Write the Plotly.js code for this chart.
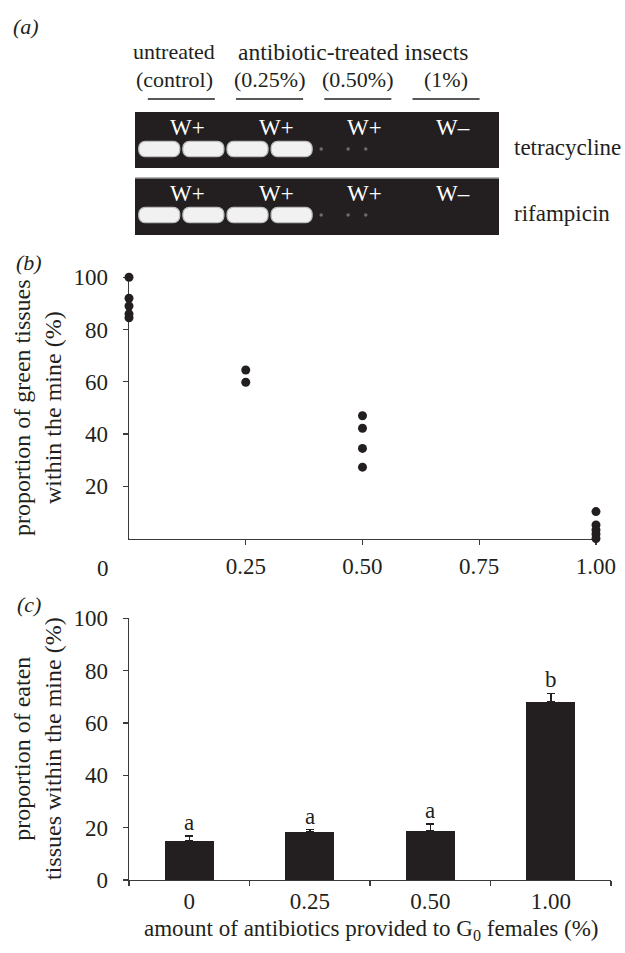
<!DOCTYPE html>
<html>
<head>
<meta charset="utf-8">
<script src="https://cdn.plot.ly/plotly-3.0.1.min.js"></script>
<style>html,body{margin:0;padding:0;background:#fff}#chart{width:625px;height:953px}</style>
</head>
<body>
<div id="chart"></div>
<script>
// ---------- data ----------
// panel (b): proportion of green tissues within the mine vs antibiotic dose
const doseB  = [0, 0, 0, 0, 0, 0.25, 0.25, 0.5, 0.5, 0.5, 0.5, 1, 1, 1, 1, 1];
const greenB = [100, 92, 89, 86, 84.5, 64.5, 59.8, 47, 42.2, 34.5, 27.3, 10.3, 5.2, 3.3, 1.7, 0];
const xTicksB = [0.25, 0.5, 0.75, 1];
const xTextB  = ['0.25', '0.50', '0.75', '1.00'];
const xZeroLabelB = '0';

// panel (c): proportion of eaten tissues (mean + s.e.)
const catsC    = ['0', '0.25', '0.50', '1.00'];
const eatenC   = [15, 18.3, 18.7, 68];
const errC     = [1.9, 0.9, 2.7, 3.3];
const lettersC = ['a', 'a', 'a', 'b'];

// panel (a): PCR gel, Wolbachia detection
const gelRows    = ['tetracycline', 'rifampicin'];
const gelGroups  = ['(control)', '(0.25%)', '(0.50%)', '(1%)'];
const gelStatus  = ['W+', 'W+', 'W+', 'W–'];
const laneBand   = [1, 1, 1, 1, 0.12, 0.1, 0, 0];   // band intensity per lane (2 lanes per group)

// ---------- style / layout constants ----------
const INK = '#231f20';
const FONT = 'Liberation Serif';
const W = 625, H = 953;
const px = v => v / W;           // x pixel -> paper
const py = v => 1 - v / H;       // y pixel -> paper

// gel rows in y3 units (gel spans y3 0..2)
const rowGeom = [
  {bottom: 1.089, top: 2.0,   band: 1.398, label: 1.74},
  {bottom: 0.0,   top: 0.927, band: 0.325, label: 0.683}
];
const bandH = 0.25, bandW = 0.93;

const lanes = laneBand.map((_, i) => i + 1);
const groupCenters = gelGroups.map((_, g) => 2 * g + 1.5);

// ---------- traces ----------
const traces = [];

traces.push({
  type: 'scatter', mode: 'markers', x: doseB, y: greenB,
  xaxis: 'x', yaxis: 'y', cliponaxis: false,
  marker: {size: 9, color: INK}, hoverinfo: 'x+y', showlegend: false
});

traces.push({
  type: 'bar', x: catsC, y: eatenC, xaxis: 'x2', yaxis: 'y2', width: 0.405,
  marker: {color: INK, line: {width: 0}},
  error_y: {type: 'data', symmetric: false, array: errC, arrayminus: errC.map(() => 0),
            color: INK, thickness: 1.5, width: 4},
  showlegend: false
});

// gel bands as bars
gelRows.forEach((r, ri) => {
  const g = rowGeom[ri];
  const strong = lanes.filter((l, i) => laneBand[i] >= 0.5);
  traces.push({
    type: 'bar', x: strong, y: strong.map(() => bandH), base: strong.map(() => g.band - bandH / 2),
    xaxis: 'x3', yaxis: 'y3', width: bandW,
    marker: {color: '#f1f1f1', line: {color: '#bcbcbc', width: 1.2}, cornerradius: 7},
    hoverinfo: 'skip', showlegend: false
  });
  const faint = lanes.filter((l, i) => laneBand[i] > 0 && laneBand[i] < 0.5);
  const fx = [], fy = [];
  faint.forEach((l, k) => {
    if (k === 0) { fx.push(l - 0.33, l + 0.28); fy.push(g.band, g.band); }
    else { fx.push(l - 0.32); fy.push(g.band); }
  });
  traces.push({
    type: 'scatter', mode: 'markers', x: fx, y: fy, xaxis: 'x3', yaxis: 'y3',
    marker: {size: 3.5, color: '#6d6d6d'}, hoverinfo: 'skip', showlegend: false, cliponaxis: false
  });
});

// ---------- shapes ----------
const shapes = [];
rowGeom.forEach(g => {
  shapes.push({type: 'rect', xref: 'x3', yref: 'y3', x0: 0.45, x1: 8.7, y0: g.bottom, y1: g.top,
               fillcolor: INK, line: {width: 0}, layer: 'below'});
});
shapes.push({type: 'line', xref: 'x3', yref: 'y3', x0: 0.45, x1: 8.7, y0: rowGeom[1].top, y1: rowGeom[1].top,
             line: {color: '#9a9a9a', width: 1.5}, layer: 'below'});
groupCenters.forEach(c => {
  shapes.push({type: 'line', xref: 'x3', yref: 'paper', x0: c - 0.76, x1: c + 0.76, y0: py(99), y1: py(99),
               line: {color: INK, width: 1.3}});
});
// tick mark at x = 0 on panel (b) (its label sits further left, drawn as an annotation)
shapes.push({type: 'line', xref: 'x', yref: 'y', x0: 0, x1: 0, ysizemode: 'pixel', yanchor: 0, y0: 0, y1: -5,
             line: {color: '#3a3a3a', width: 1.3}});

// ---------- annotations ----------
const ann = [];
const txt = (text, x, y, opts = {}) => Object.assign({
  text, x, y, xref: 'paper', yref: 'paper', showarrow: false,
  font: {family: FONT, size: 22, color: INK}, xanchor: 'center', yanchor: 'middle'
}, opts);

ann.push(txt('<i>(a)</i>', px(26), py(27)));
ann.push(txt('<i>(b)</i>', px(29), py(262)));
ann.push(txt('<i>(c)</i>', px(29), py(604)));

ann.push(txt('untreated', px(174), py(52)));
ann.push(txt('antibiotic-treated insects', px(353), py(52), {font: {family: FONT, size: 23.5, color: INK}}));
gelGroups.forEach((gname, gi) => {
  if (gi === 0) ann.push(txt(gname, px(174), py(80)));
  else ann.push(txt(gname, groupCenters[gi], py(80), {xref: 'x3'}));
});
gelRows.forEach((r, ri) => {
  ann.push(txt(r, px(512), rowGeom[ri].band + 0.03, {yref: 'y3', xanchor: 'left', font: {family: FONT, size: 23, color: INK}}));
  gelStatus.forEach((s, gi) => {
    ann.push(txt(s, groupCenters[gi] + 0.15, rowGeom[ri].label, {xref: 'x3', yref: 'y3',
                 font: {family: FONT, size: 23, color: '#ffffff'}}));
  });
});

ann.push(txt('proportion of green tissues<br>within the mine (%)', px(37), py(408),
             {textangle: -90, font: {family: FONT, size: 24, color: INK}}));
ann.push(txt(xZeroLabelB, px(103), py(568), {font: {family: FONT, size: 23, color: INK}}));

ann.push(txt('proportion of eaten<br>tissues within the mine (%)', px(37), py(749),
             {textangle: -90, font: {family: FONT, size: 24, color: INK}}));
ann.push(txt('amount of antibiotics provided to G<sub>0</sub> females (%)', px(371), py(930),
             {font: {family: FONT, size: 23, color: INK}}));

catsC.forEach((c, i) => {
  ann.push({text: lettersC[i], x: i, y: eatenC[i] + errC[i], xref: 'x2', yref: 'y2',
            showarrow: false, yanchor: 'bottom', xanchor: 'center', yshift: -1,
            font: {family: FONT, size: 23, color: INK}});
});

// ---------- axes ----------
const axBase = {
  showgrid: false, zeroline: false, showline: true, linecolor: '#3a3a3a', linewidth: 1.3,
  ticks: 'outside', ticklen: 5, tickwidth: 1.3, tickcolor: '#3a3a3a',
  tickfont: {family: FONT, size: 23, color: INK}, fixedrange: true
};

const layout = {
  width: W, height: H, margin: {l: 0, r: 0, t: 0, b: 0},
  paper_bgcolor: '#ffffff', plot_bgcolor: 'rgba(0,0,0,0)', showlegend: false,
  barmode: 'overlay', bargap: 0,
  font: {family: FONT, color: INK},
  xaxis: Object.assign({}, axBase, {domain: [px(129), px(600)], range: [0, 1.0086], anchor: 'y',
          tickvals: xTicksB, ticktext: xTextB, ticklabelstandoff: 2, layer: 'below traces'}),
  yaxis: Object.assign({}, axBase, {domain: [py(538.5), py(277.3)], range: [0, 100], anchor: 'x',
          tickvals: [20, 40, 60, 80, 100], ticklabelstandoff: 10, layer: 'below traces'}),
  xaxis2: Object.assign({}, axBase, {domain: [px(129), px(611)], type: 'category', range: [-0.5, 3.5],
          anchor: 'y2', tickson: 'boundaries', ticklabelstandoff: 0}),
  yaxis2: Object.assign({}, axBase, {domain: [py(880), py(618.3)], range: [0, 100], anchor: 'x2',
          tickvals: [0, 20, 40, 60, 80, 100], ticklabelstandoff: 10}),
  xaxis3: {domain: [px(135), px(499)], range: [0.45, 8.7], anchor: 'y3', visible: false, fixedrange: true},
  yaxis3: {domain: [py(235), py(112)], range: [0, 2], anchor: 'x3', visible: false, fixedrange: true},
  shapes, annotations: ann
};

Plotly.newPlot('chart', traces, layout, {displayModeBar: false, staticPlot: true});
</script>
</body>
</html>
